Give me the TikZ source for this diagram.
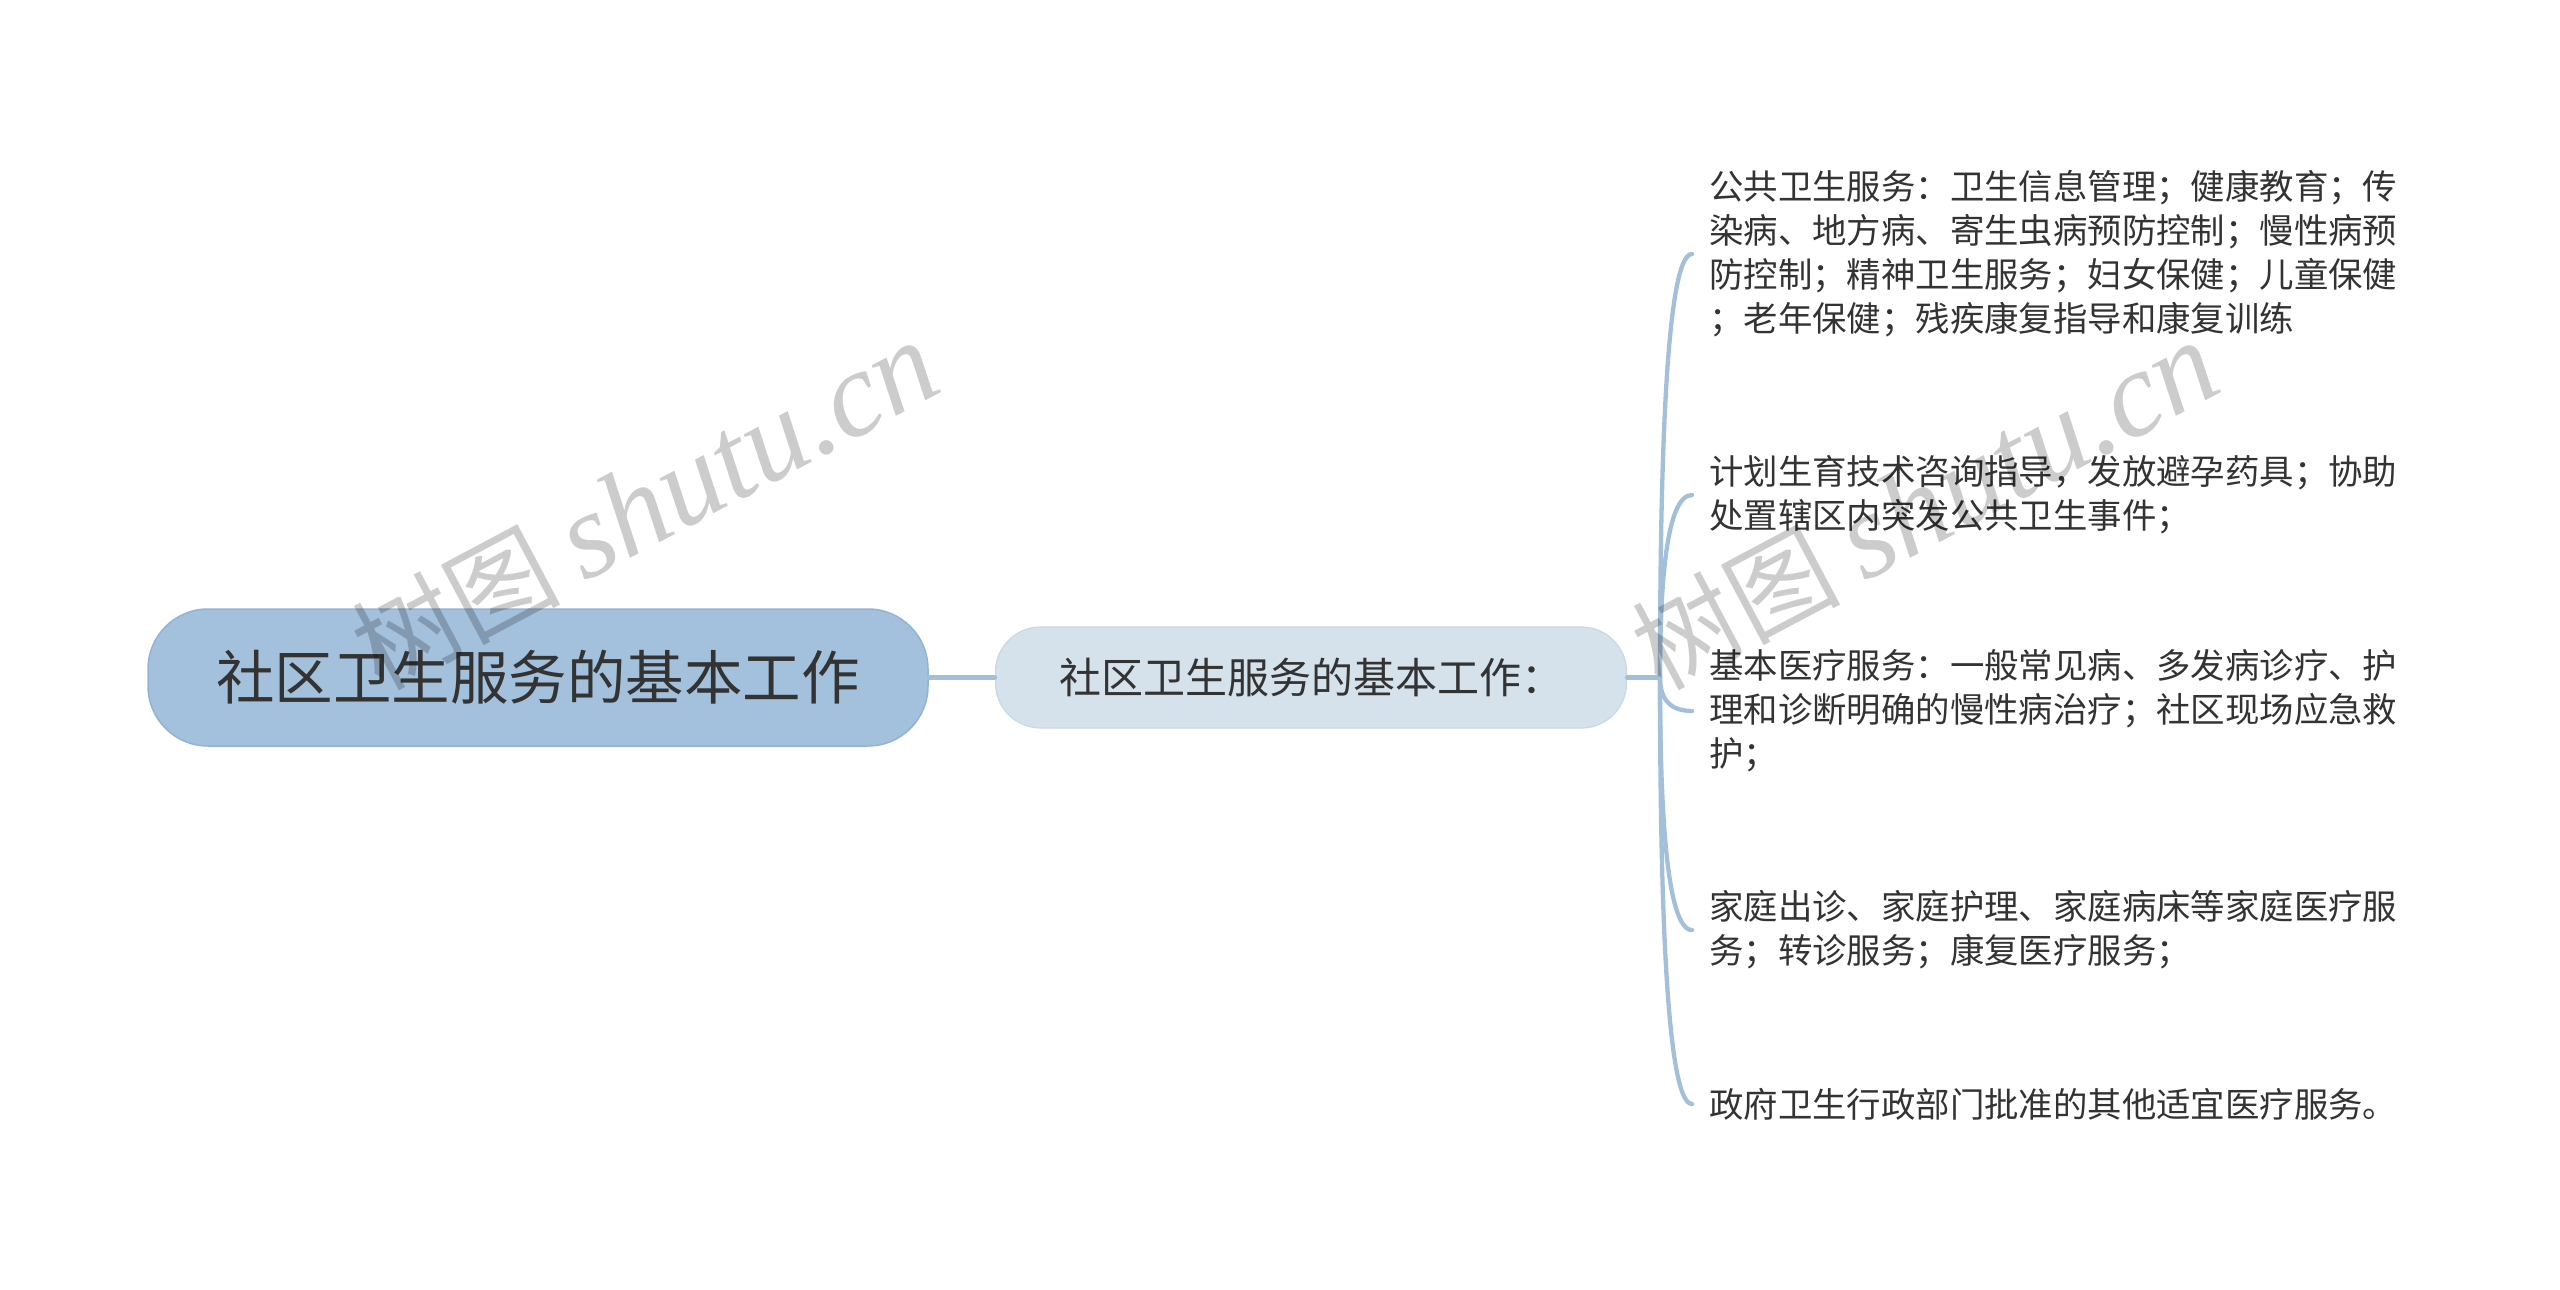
\documentclass[tikz,border=0pt]{standalone}
\usepackage{fontspec}
\usetikzlibrary{calc}
\setmainfont{Noto Sans CJK SC}
\newfontfamily\wmlatin{Liberation Serif}
\newfontfamily\wmcjk{Noto Sans CJK SC}
\definecolor{rootfill}{HTML}{A3C0DC}
\definecolor{rootline}{HTML}{93B3D3}
\definecolor{midfill}{HTML}{D5E1EB}
\definecolor{midline}{HTML}{C9D8E6}
\definecolor{linkc}{HTML}{A3BFDA}
\definecolor{txt}{HTML}{333333}
\tikzset{
  rootbox/.style={draw=rootline, line width=1.5pt, fill=rootfill, rounded corners=60pt,
    minimum width=780pt, minimum height=137pt, inner sep=0pt, text=txt,
    font=\fontsize{58.5}{70}\selectfont},
  midbox/.style={draw=midline, line width=1.2pt, fill=midfill, rounded corners=45pt,
    minimum width=631pt, minimum height=101pt, inner sep=0pt, text=txt,
    font=\fontsize{42}{50}\selectfont},
  leaf/.style={anchor=west, inner sep=0pt, align=left, text=txt,
    font=\fontsize{34.4}{44}\selectfont},
  link/.style={draw=linkc, line width=4.3pt, line cap=round},
  wmark/.style={text=black, opacity=0.2, rotate=28, inner sep=0pt}
}
\begin{document}
\begin{tikzpicture}[x=1pt,y=-1pt]
\useasboundingbox[fill=white] (0,0) rectangle (2560,1290);

\node[rootbox] (root) at (538,677.5) {社区卫生服务的基本工作};
\node[midbox] (mid) at (1311,677.5) {社区卫生服务的基本工作：};

\coordinate (sp) at (1660,677.5);

\node[leaf] (l1) at (1709,254) {公共卫生服务：卫生信息管理；健康教育；传\\染病、地方病、寄生虫病预防控制；慢性病预\\防控制；精神卫生服务；妇女保健；儿童保健\\；老年保健；残疾康复指导和康复训练};
\node[leaf] (l2) at (1709,495) {计划生育技术咨询指导，发放避孕药具；协助\\处置辖区内突发公共卫生事件；};
\node[leaf] (l3) at (1709,711) {基本医疗服务：一般常见病、多发病诊疗、护\\理和诊断明确的慢性病治疗；社区现场应急救\\护；};
\node[leaf] (l4) at (1709,930) {家庭出诊、家庭护理、家庭病床等家庭医疗服\\务；转诊服务；康复医疗服务；};
\node[leaf] (l5) at (1709,1104) {政府卫生行政部门批准的其他适宜医疗服务。};

\draw[link] (root.east) -- (mid.west);
\draw[link] (mid.east) -- (sp);
\foreach \n in {l1,l2,l3,l4,l5}{
  \draw[link] (sp) .. controls ($(sp)!0.5!(sp |- \n.west)$) and ($(sp |- \n.west)+(6,0)$) .. ($(\n.west)+(-17,0)$);
}

\node[wmark] (wm1) at (645,506) {\wmcjk\fontsize{104}{110}\selectfont 树图 \wmlatin\itshape\fontsize{122}{124}\selectfont shutu.cn};
\node[wmark] (wm2) at (1925,506) {\wmcjk\fontsize{104}{110}\selectfont 树图 \wmlatin\itshape\fontsize{122}{124}\selectfont shutu.cn};
\end{tikzpicture}
\end{document}
